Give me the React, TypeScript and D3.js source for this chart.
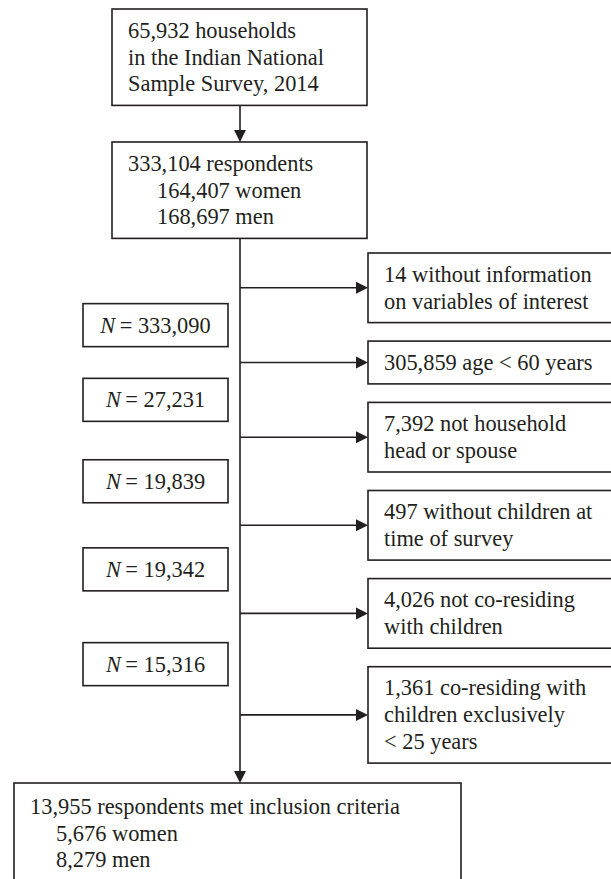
import React, {useEffect, useRef} from 'react';
import * as d3 from 'd3';

// flowchart content
const sourceLines = ["65,932 households", "in the Indian National", "Sample Survey, 2014"];
const respondentTotal = "333,104 respondents";
const respondentSplit = ["164,407 women", "168,697 men"];

const exclusions = [
  ["14 without information", "on variables of interest"],
  ["305,859 age < 60 years"],
  ["7,392 not household", "head or spouse"],
  ["497 without children at", "time of survey"],
  ["4,026 not co-residing", "with children"],
  ["1,361 co-residing with", "children exclusively", "< 25 years"],
];

const remainingN = ["333,090", "27,231", "19,839", "19,342", "15,316"];

const finalTotal = "13,955 respondents met inclusion criteria";
const finalSplit = ["5,676 women", "8,279 men"];

const App = () => {
  const ref = useRef<SVGSVGElement | null>(null);

  useEffect(() => {
    drawChart();
    return () => {
      d3.select(ref.current).selectAll("*").remove();
    };
  }, []);

  const drawChart = () => {
    const width = 611;
    const height = 879;
    const ink = "#231f20";
    const fontFamily = "'Liberation Serif', 'Times New Roman', serif";
    const fontSize = 22.4;
    const lineH = 26.8;
    const boxPad = 16;     // vertical padding total in a box
    const stroke = 1.6;
    const headLen = 12;
    const headHalf = 6;

    const trunkX = 240;
    const mainX0 = 112, mainX1 = 367;
    const sideX0 = 368, sideX1 = 640;
    const nX0 = 83, nX1 = 228;
    const finalX0 = 14, finalX1 = 461;

    const boxH = (n: number) => boxPad + lineH * n;

    const svg = d3.select(ref.current)
      .attr("width", width)
      .attr("height", height);

    const g = svg.append("g");

    type Line = {text: string; indent: number; italicN?: boolean};

    const drawBox = (x0: number, x1: number, y: number, h: number, lines: Line[], textX: number, anchor = "start") => {
      g.append("rect")
        .attr("x", x0)
        .attr("y", y)
        .attr("width", x1 - x0)
        .attr("height", h)
        .attr("fill", "white")
        .attr("stroke", ink)
        .attr("stroke-width", stroke);

      const cy = y + h / 2;
      lines.forEach((ln, i) => {
        const t = g.append("text")
          .attr("x", textX + ln.indent)
          .attr("y", cy + (i - (lines.length - 1) / 2) * lineH)
          .attr("dy", "0.33em")
          .attr("font-family", fontFamily)
          .attr("font-size", fontSize)
          .attr("fill", ink)
          .attr("text-anchor", anchor);
        if (ln.italicN) {
          t.append("tspan").attr("font-style", "italic").text("N");
          t.append("tspan").text("\u2009= " + ln.text);
        } else {
          t.text(ln.text);
        }
      });
    };

    const arrowHead = (tipX: number, tipY: number, dir: "right" | "down") => {
      const pts: [number, number][] = dir === "right"
        ? [[tipX, tipY], [tipX - headLen, tipY - headHalf], [tipX - headLen, tipY + headHalf]]
        : [[tipX, tipY], [tipX - headHalf, tipY - headLen], [tipX + headHalf, tipY - headLen]];
      g.append("path")
        .attr("d", d3.line()(pts) + "Z")
        .attr("fill", ink);
    };

    const seg = (x1: number, y1: number, x2: number, y2: number) => {
      g.append("line")
        .attr("x1", x1).attr("y1", y1)
        .attr("x2", x2).attr("y2", y2)
        .attr("stroke", ink)
        .attr("stroke-width", stroke);
    };

    // top boxes
    const topY = 9;
    const topH = boxH(sourceLines.length);
    const respY = 142;
    const respH = boxH(1 + respondentSplit.length);

    seg(trunkX, topY + topH, trunkX, respY - 2);
    arrowHead(trunkX, respY, "down");

    // exclusion boxes stacked down the right side
    const sideGap = 18.5;
    const sideStart = 253;
    const heights = exclusions.map(e => boxH(e.length));
    const tops = heights.map((h, i) => sideStart + d3.sum(heights.slice(0, i)) + i * sideGap);
    const arrowYs = tops.map((t, i) => t + heights[i] / 2);

    const finalY = 783;
    const finalH = boxH(1 + finalSplit.length);

    // trunk
    seg(trunkX, respY + respH, trunkX, finalY - 2);
    arrowHead(trunkX, finalY, "down");

    // branches
    arrowYs.forEach(y => {
      seg(trunkX, y, sideX0 - headLen + 1, y);
      arrowHead(sideX0, y, "right");
    });

    drawBox(mainX0, mainX1, topY, topH,
      sourceLines.map(t => ({text: t, indent: 0})), mainX0 + boxPad);

    drawBox(mainX0, mainX1, respY, respH,
      [{text: respondentTotal, indent: 0}, ...respondentSplit.map(t => ({text: t, indent: 29}))],
      mainX0 + boxPad);

    exclusions.forEach((lines, i) => {
      drawBox(sideX0, sideX1, tops[i], heights[i],
        lines.map(t => ({text: t, indent: 0})), sideX0 + boxPad);
    });

    // running totals, centred between consecutive branches
    const nH = 43;
    remainingN.forEach((n, i) => {
      const mid = (arrowYs[i] + arrowYs[i + 1]) / 2;
      drawBox(nX0, nX1, mid - nH / 2, nH,
        [{text: n, indent: 0, italicN: true}], (nX0 + nX1) / 2, "middle");
    });

    drawBox(finalX0, finalX1, finalY, finalH + 4,
      [{text: finalTotal, indent: 0}, ...finalSplit.map(t => ({text: t, indent: 26}))],
      finalX0 + boxPad);
  };

  return (
    <div style={{position: "absolute", left: 0, top: 0, width: 611, height: 879, background: "white"}}>
      <svg ref={ref} style={{display: "block"}}></svg>
    </div>
  );
};

export default App;
